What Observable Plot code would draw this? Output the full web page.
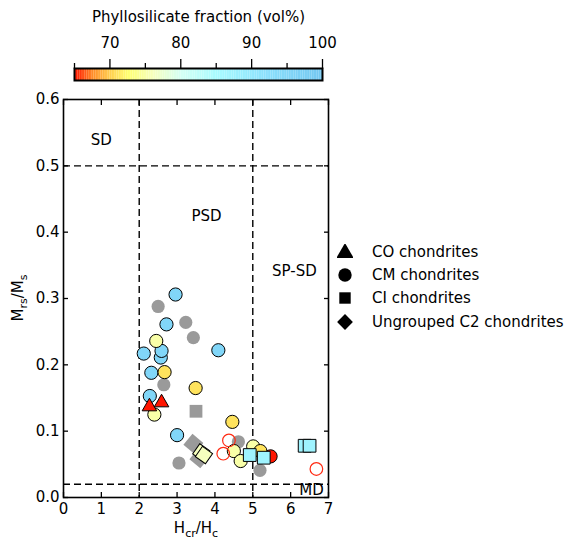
<!DOCTYPE html>
<html><head><meta charset="utf-8">
<script src="https://cdn.jsdelivr.net/npm/d3@7"></script>
<script src="https://cdn.jsdelivr.net/npm/@observablehq/plot@0.6"></script>
<style>
body{margin:0;background:#fff;font-family:"DejaVu Sans",sans-serif;}
#wrap{position:relative;width:565px;height:541px;overflow:hidden;}
#wrap > *{position:absolute;}
.leg{font-size:15px;color:#000;}
.leg div{display:flex;align-items:center;height:23.4px;}
.leg svg{margin-right:19px;}
</style></head><body><div id="wrap"></div>
<script>
// ---------- data ----------
// CM chondrites (circles); null phyllosilicate = no data (grey)
const cmHcr    = [2.50, 3.23, 3.43, 2.65, 3.05, 4.62, 5.19,
                  2.96, 2.72, 2.12, 2.57, 2.59, 4.09, 2.32, 2.28, 3.00,
                  2.45, 2.40, 4.50, 4.68, 5.01,
                  2.67, 3.49, 4.46, 5.20, 5.47];
const cmMrs    = [0.288, 0.264, 0.241, 0.170, 0.052, 0.084, 0.041,
                  0.306, 0.261, 0.217, 0.211, 0.221, 0.222, 0.188, 0.153, 0.094,
                  0.236, 0.125, 0.070, 0.055, 0.077,
                  0.189, 0.165, 0.114, 0.070, 0.062];
const cmPhyllo = [null, null, null, null, null, null, null,
                  95, 95, 95, 95, 95, 95, 95, 95, 95,
                  75, 75, 75, 75, 75,
                  71, 71, 71, 71, 65];
// CM chondrites shown as open red circles
const cmOpenHcr = [4.37, 4.22, 6.68];
const cmOpenMrs = [0.086, 0.066, 0.043];
// CO chondrites (triangles)
const coHcr    = [2.27, 2.59];
const coMrs    = [0.137, 0.143];
const coPhyllo = [65, 65];
// CI chondrites (squares)
const ciHcr    = [3.50, 4.92, 5.29, 6.37, 6.50];
const ciMrs    = [0.130, 0.064, 0.060, 0.078, 0.078];
const ciPhyllo = [null, 87, 87, 87, 87];
// Ungrouped C2 chondrites (diamonds)
const c2Hcr    = [3.43, 3.59, 3.64, 3.71];
const c2Mrs    = [0.081, 0.059, 0.068, 0.064];
const c2Phyllo = [null, null, 76, 76];
// domain boundaries and labels
const hcrBounds = [2, 5];
const mrsBounds = [0.5, 0.02];
const regionNames = ["SD", "PSD", "SP-SD", "MD"];
const regionHcr   = [1.0, 3.78, 6.1, 6.55];
const regionMrs   = [0.538, 0.424, 0.341, 0.011];
const xTicks = [0, 1, 2, 3, 4, 5, 6, 7];
const yTicks = [0, 0.1, 0.2, 0.3, 0.4, 0.5, 0.6];
const cbMajor = [70, 80, 90, 100];
const cbMinor = [65, 75, 85, 95];
const cbTitle = "Phyllosilicate fraction (vol%)";
const legendNames = ["CO chondrites", "CM chondrites", "CI chondrites", "Ungrouped C2 chondrites"];

// ---------- helpers ----------
const rows = (xs, ys, ps) => xs.map((x, i) => ({x, y: ys[i], p: ps ? ps[i] : null}));
const cm = rows(cmHcr, cmMrs, cmPhyllo);
const cmOpen = rows(cmOpenHcr, cmOpenMrs);
const co = rows(coHcr, coMrs, coPhyllo);
const ci = rows(ciHcr, ciMrs, ciPhyllo);
const c2 = rows(c2Hcr, c2Mrs, c2Phyllo);
const grey = d => d.p == null, col = d => d.p != null;
const GREY = "#9a9a9a";

const colorScale = {
  type: "linear",
  domain: [65, 67.5, 70, 72.5, 76, 80, 85, 92, 100],
  range: ["#ff1500", "#ff8c28", "#ffd050", "#ffff70", "#f6ffbe", "#d4fff4", "#a8fbff", "#8ae0fc", "#72c6f0"],
  interpolate: "rgb"
};
const FONT = "DejaVu Sans";
const wrap = document.getElementById("wrap");

// ---------- colour bar ----------
const cbSteps = d3.range(65, 100, 0.25);
const cb = Plot.plot({
  width: 340, height: 82,
  marginLeft: 74, marginRight: 18, marginTop: 68, marginBottom: 2,
  style: {fontFamily: FONT, fontSize: "15px", background: "transparent"},
  x: {domain: [65, 100]},
  y: {domain: [0, 1], axis: null},
  color: colorScale,
  marks: [
    Plot.rect(cbSteps, {x1: d => d, x2: d => d + 0.26, y1: 0, y2: 1, fill: d => d}),
    Plot.frame({stroke: "#000", strokeWidth: 2}),
    Plot.axisX({anchor: "top", ticks: cbMajor, tickSize: 10, tickPadding: 11, tickFormat: d3.format("d"), label: null, strokeWidth: 1.3}),
    Plot.axisX({anchor: "top", ticks: cbMinor, tickSize: 6, tickFormat: () => "", label: null, strokeWidth: 1.3}),
    Plot.text([cbTitle], {frameAnchor: "top", dy: -57, fontSize: 15})
  ]
});
cb.style.left = "0px"; cb.style.top = "0px";
wrap.appendChild(cb);

// ---------- main chart ----------
const dotStyle = {x: "x", y: "y", r: 6.6, stroke: "#000", strokeWidth: 1};
const main = Plot.plot({
  width: 340, height: 459,
  marginLeft: 63, marginRight: 12, marginTop: 17, marginBottom: 44,
  style: {fontFamily: FONT, fontSize: "15px", background: "transparent"},
  x: {domain: [0, 7]},
  y: {domain: [0, 0.6]},
  color: colorScale,
  marks: [
    Plot.ruleX(hcrBounds, {strokeDasharray: "7,4", strokeWidth: 1.4}),
    Plot.ruleY(mrsBounds, {strokeDasharray: "7,4", strokeWidth: 1.4}),
    Plot.text(regionNames, {x: (d, i) => regionHcr[i], y: (d, i) => regionMrs[i], text: d => d, fontSize: 15}),
    // CM grey
    Plot.dot(cm.filter(grey), {x: "x", y: "y", r: 6.6, fill: GREY, symbol: "circle"}),
    // C2 grey
    Plot.dot(c2.filter(grey), {x: "x", y: "y", r: 8, fill: GREY, symbol: "square", rotate: 40}),
    // CI grey
    Plot.dot(ci.filter(grey), {x: "x", y: "y", r: 7.2, fill: GREY, symbol: "square"}),
    // CM coloured
    Plot.dot(cm.filter(col), {...dotStyle, fill: "p", symbol: "circle"}),
    // CM open
    Plot.dot(cmOpen, {x: "x", y: "y", r: 6.3, stroke: "#ff2a12", strokeWidth: 1.2, fill: "none"}),
    // CO
    Plot.dot(co, {...dotStyle, r: 5.4, fill: "p", symbol: "triangle"}),
    // CI coloured
    Plot.dot(ci.filter(col), {...dotStyle, r: 7.2, fill: "p", symbol: "square"}),
    // C2 coloured
    Plot.dot(c2.filter(col), {...dotStyle, r: 7, fill: "p", symbol: "square", rotate: 35}),
    Plot.frame({stroke: "#000", strokeWidth: 1.6}),
    // labels
    Plot.axisX({anchor: "bottom", ticks: xTicks, tickSize: 0, tickPadding: 6, tickFormat: d3.format("d"), label: null}),
    Plot.axisY({anchor: "left", ticks: yTicks, tickSize: 0, tickPadding: 4, tickFormat: d3.format(".1f"), label: null}),
    // inward ticks
    Plot.axisX({anchor: "bottom", ticks: xTicks, tickSize: 5, dy: -5, tickFormat: () => "", label: null, strokeWidth: 1.3}),
    Plot.axisX({anchor: "top", ticks: xTicks, tickSize: 5, dy: 5, tickFormat: () => "", label: null, strokeWidth: 1.3}),
    Plot.axisY({anchor: "left", ticks: yTicks, tickSize: 5, dx: 5, tickFormat: () => "", label: null, strokeWidth: 1.3}),
    Plot.axisY({anchor: "right", ticks: yTicks, tickSize: 5, dx: -5, tickFormat: () => "", label: null, strokeWidth: 1.3})
  ]
});
main.style.left = "0px"; main.style.top = "82px";
// axis titles with subscripts
const sv = d3.select(main);
const xt = sv.append("text").attr("x", 196).attr("y", 451).attr("text-anchor", "middle")
  .attr("font-family", FONT).attr("font-size", 15).attr("fill", "#000");
xt.append("tspan").text("H");
xt.append("tspan").attr("font-size", 11).attr("dy", 4).text("cr");
xt.append("tspan").attr("dy", -4).text("/H");
xt.append("tspan").attr("font-size", 11).attr("dy", 4).text("c");
const yt = sv.append("text").attr("transform", "translate(23,216) rotate(-90)").attr("text-anchor", "middle")
  .attr("font-family", FONT).attr("font-size", 15).attr("fill", "#000");
yt.append("tspan").text("M");
yt.append("tspan").attr("font-size", 11).attr("dy", 4).text("rs");
yt.append("tspan").attr("dy", -4).text("/M");
yt.append("tspan").attr("font-size", 11).attr("dy", 4).text("s");
wrap.appendChild(main);

// ---------- symbol legend ----------
const legendSymbols = [d3.symbolTriangle, d3.symbolCircle, d3.symbolSquare, d3.symbolSquare];
const legendSizes = [130, 140, 130, 125];
const leg = document.createElement("div");
leg.className = "leg";
leg.style.left = "337px"; leg.style.top = "240px";
legendNames.forEach((name, i) => {
  const row = document.createElement("div");
  const s = d3.create("svg").attr("width", 16).attr("height", 16);
  s.append("path").attr("d", d3.symbol(legendSymbols[i], legendSizes[i])())
    .attr("transform", `translate(8,${i === 0 ? 9 : 8})${i === 3 ? " rotate(45)" : ""}`).attr("fill", "#000");
  row.appendChild(s.node());
  const t = document.createElement("span");
  t.textContent = name;
  row.appendChild(t);
  leg.appendChild(row);
});
wrap.appendChild(leg);
</script></body></html>
